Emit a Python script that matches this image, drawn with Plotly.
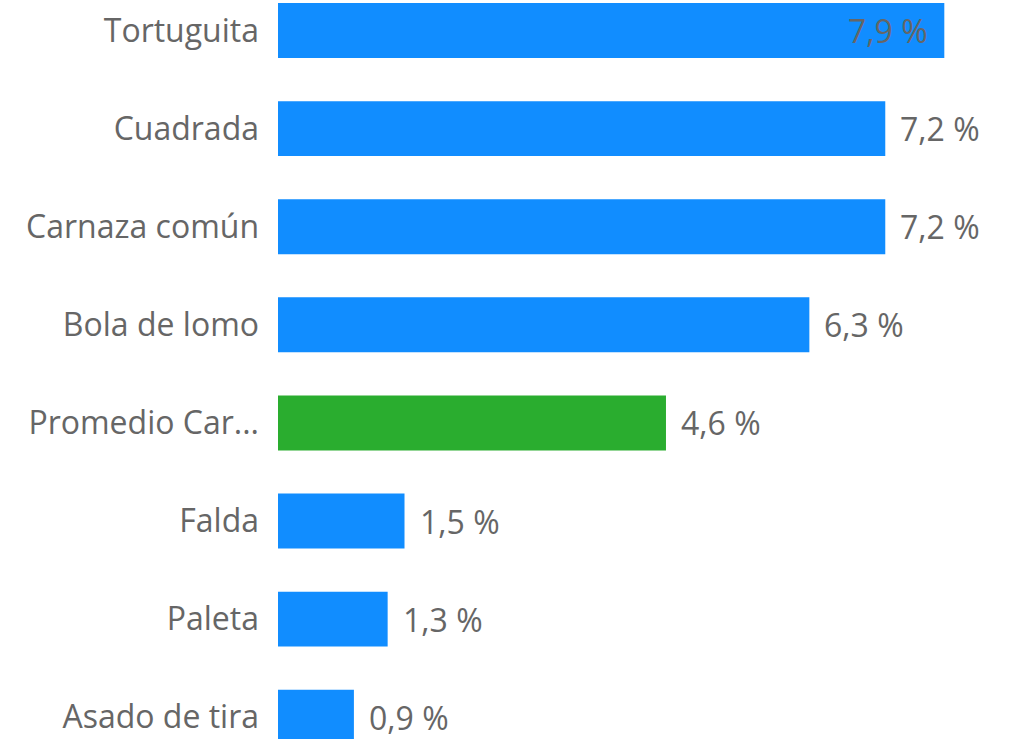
import plotly.graph_objects as go

categories = ["Tortuguita", "Cuadrada", "Carnaza común", "Bola de lomo",
              "Promedio Car...", "Falda", "Paleta", "Asado de tira"]
values = [7.9, 7.2, 7.2, 6.3, 4.6, 1.5, 1.3, 0.9]
labels = ["7,9 %", "7,2 %", "7,2 %", "6,3 %", "4,6 %", "1,5 %", "1,3 %", "0,9 %"]
highlight = "Promedio Car..."

BLUE = "#118DFF"
GREEN = "#2AAD2F"
GREY = "#666666"
FONT = "Open Sans"

pos = list(range(len(categories)))
colors = [GREEN if c == highlight else BLUE for c in categories]

fig = go.Figure(go.Bar(
    x=values, y=pos, orientation="h",
    marker=dict(color=colors, line=dict(width=0)),
    width=0.56, hoverinfo="skip",
))

xmax = 8.75
for i, (v, t) in enumerate(zip(values, labels)):
    inside = v + 1.1 > xmax
    fig.add_annotation(
        x=v, y=i, text=t, showarrow=False,
        xanchor="right" if inside else "left",
        xshift=-14 if inside else 13,
        font=dict(family=FONT, size=32, color=GREY),
    )

fig.update_layout(
    width=1016, height=739,
    margin=dict(l=278, r=0, t=0, b=0),
    paper_bgcolor="white", plot_bgcolor="white",
    showlegend=False,
    xaxis=dict(range=[0, xmax], visible=False, fixedrange=True),
    yaxis=dict(range=[7.222, -0.311], tickvals=pos, ticktext=categories,
               showgrid=False, zeroline=False, showline=False, fixedrange=True,
               ticks="", ticklabelstandoff=18, ticklabeloverflow="allow",
               tickfont=dict(family=FONT, size=32, color=GREY)),
)

fig.write_html("out.html",
               config={"displayModeBar": False, "staticPlot": True},
               post_script="document.body.style.margin='0px';"
                           "document.body.style.overflow='hidden';")
